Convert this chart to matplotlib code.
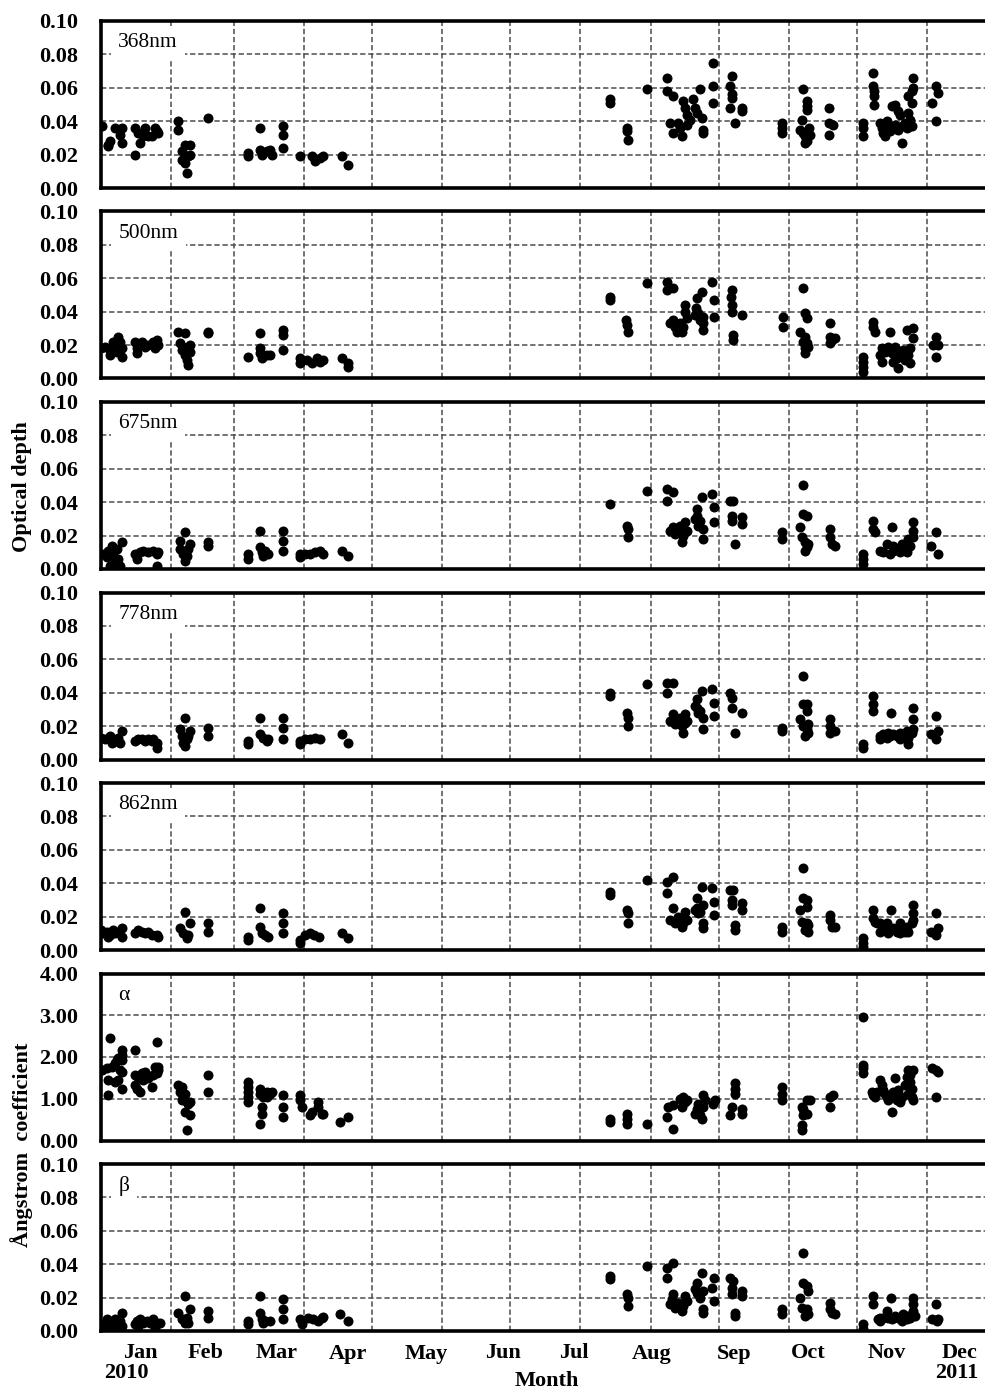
import matplotlib.pyplot as plt

plt.rcParams['font.family'] = ['Liberation Serif', 'DejaVu Serif']

# x axis: days counted from 1 Jan (first month shown)
month_edges = [31, 59, 90, 120, 151, 181, 212, 243, 273, 304, 334, 365]
month_names = ['Jan', 'Feb', 'Mar', 'Apr', 'May', 'Jun', 'Jul', 'Aug', 'Sep', 'Oct', 'Nov', 'Dec']
month_label_days = [17.4, 46.5, 77.8, 109.3, 144.1, 177.8, 209.2, 243.5, 279.8, 312.5, 347.3, 379.6]
year_names = ['2010', '2011']
year_label_days = [11.6, 378.2]

# ---- 368 nm ----
day_368 = [0.5, 3.5, 4.2, 3.5, 6.4, 9.3, 8.6, 9.3, 15.2, 15.2, 16.7, 17.4, 19.6, 18.9, 21.1, 22.6, 24.1, 24.8, 25.5,
           34.4, 34.4, 35.8, 37.3, 39.5, 35.8, 37.3, 38.0, 38.8, 39.5, 47.6, 65.3, 65.3,
           70.4, 70.4, 71.2, 73.4, 74.9, 75.6, 80.5, 80.5, 80.5, 88.1, 93.3, 94.7, 96.9, 98.4, 106.5, 109.5,
           225.1, 225.1, 232.4, 232.4, 233.1, 241.2, 250.1, 250.4, 253.0, 251.6, 253.0, 256.7, 257.4, 258.2,
           258.9, 260.4, 261.9, 262.6, 263.3, 264.8, 265.5, 266.3, 266.3, 255.2, 256.0, 258.9,
           270.7, 270.7, 270.7, 278.8, 278.1, 278.8, 278.8, 278.1, 283.2, 283.2, 280.3,
           300.9, 300.9, 300.9, 310.2, 311.9, 311.9, 311.9, 309.7, 309.0, 310.4, 313.1, 311.2, 311.9, 313.4, 311.2,
           321.9, 321.9, 323.7, 321.9,
           336.9, 336.9, 336.9, 341.1, 341.1, 341.7, 341.7, 341.7, 344.3, 345.0, 345.8, 346.5, 347.3, 348.0, 348.7,
           349.5, 350.9, 352.4, 353.1, 353.9, 350.9, 352.4, 353.9, 355.4, 356.1, 356.8, 357.6, 358.3, 358.3,
           359.0, 359.0, 356.8, 357.6, 358.3, 367.1, 369.0, 370.1, 369.0]
aod_368 = [0.037, 0.026, 0.028, 0.025, 0.036, 0.036, 0.032, 0.027, 0.036, 0.020, 0.033, 0.027, 0.036, 0.031, 0.031,
           0.031, 0.036, 0.034, 0.033,
           0.040, 0.035, 0.022, 0.026, 0.026, 0.017, 0.015, 0.009, 0.019, 0.020, 0.042, 0.021, 0.019,
           0.036, 0.023, 0.020, 0.022, 0.023, 0.020, 0.037, 0.032, 0.024, 0.019, 0.019, 0.016, 0.018, 0.019,
           0.019, 0.014,
           0.053, 0.051, 0.036, 0.034, 0.029, 0.059, 0.066, 0.058, 0.055, 0.039, 0.033, 0.031, 0.052, 0.048,
           0.044, 0.041, 0.053, 0.048, 0.045, 0.059, 0.042, 0.035, 0.033, 0.039, 0.036, 0.038,
           0.075, 0.061, 0.051, 0.067, 0.061, 0.056, 0.054, 0.048, 0.048, 0.046, 0.039,
           0.039, 0.036, 0.033, 0.059, 0.052, 0.049, 0.047, 0.041, 0.035, 0.033, 0.036, 0.031, 0.028, 0.032, 0.027,
           0.048, 0.039, 0.038, 0.032,
           0.039, 0.036, 0.031, 0.069, 0.061, 0.058, 0.055, 0.050, 0.039, 0.036, 0.033, 0.031, 0.040, 0.037, 0.034,
           0.049, 0.050, 0.046, 0.044, 0.027, 0.038, 0.035, 0.037, 0.039, 0.036, 0.045, 0.041, 0.051, 0.058,
           0.066, 0.060, 0.055, 0.037, 0.037, 0.051, 0.061, 0.057, 0.040]

# ---- 500 nm ----
day_500 = [0.0, 2.0, 4.2, 4.2, 5.7, 6.4, 7.2, 7.9, 8.6, 9.4, 9.4,
           15.3, 16.0, 16.0, 17.5, 18.2, 19.7, 21.2, 23.4, 24.1, 25.6, 24.8,
           34.4, 37.4, 35.1, 39.6, 35.9, 37.4, 38.1, 38.8, 39.6, 36.6, 47.7, 47.7, 65.3,
           70.5, 70.5, 70.5, 72.0, 73.4, 74.9, 71.2, 80.8, 80.8, 80.8,
           88.1, 88.1, 91.1, 93.3, 95.5, 98.5, 97.0, 106.6, 109.5, 109.5,
           225.1, 225.1, 232.2, 232.4, 233.2, 241.3, 250.1, 250.1, 253.1,
           251.6, 253.1, 253.8, 254.5, 256.7, 256.0, 258.2, 258.2, 258.9, 257.5,
           263.4, 263.1, 262.6, 264.1, 265.6, 264.8, 266.3, 266.3, 266.3, 270.3, 271.2, 271.2,
           278.8, 278.4, 278.8, 278.8, 279.6, 279.6, 283.2,
           301.4, 301.4, 310.2, 311.2, 312.0, 309.0, 311.2, 312.0, 311.2, 312.7, 311.2, 310.5,
           322.3, 322.3, 323.0, 324.5, 322.3,
           337.0, 337.0, 337.0, 337.0, 341.1, 341.4, 342.1,
           345.1, 344.3, 345.1, 346.6, 348.0, 348.8, 349.5, 351.0, 351.7, 352.4, 353.2, 354.6, 355.4, 356.9,
           357.6, 356.1, 359.1, 359.1, 357.6, 350.2,
           369.1, 367.6, 370.1, 369.1]
aod_500 = [0.018, 0.019, 0.017, 0.014, 0.022, 0.019, 0.016, 0.025, 0.022, 0.018, 0.013,
           0.022, 0.018, 0.015, 0.020, 0.022, 0.019, 0.020, 0.022, 0.018, 0.020, 0.023,
           0.028, 0.027, 0.021, 0.020, 0.017, 0.014, 0.011, 0.008, 0.016, 0.019, 0.028, 0.027, 0.013,
           0.027, 0.018, 0.015, 0.014, 0.014, 0.014, 0.012, 0.029, 0.026, 0.017,
           0.012, 0.009, 0.011, 0.009, 0.012, 0.011, 0.010, 0.012, 0.009, 0.007,
           0.049, 0.047, 0.035, 0.032, 0.028, 0.057, 0.058, 0.053, 0.054,
           0.033, 0.035, 0.031, 0.028, 0.028, 0.033, 0.044, 0.040, 0.036, 0.031,
           0.048, 0.042, 0.038, 0.039, 0.052, 0.035, 0.033, 0.029, 0.037, 0.058, 0.047, 0.037,
           0.053, 0.049, 0.044, 0.040, 0.026, 0.023, 0.038,
           0.037, 0.031, 0.054, 0.039, 0.036, 0.028, 0.025, 0.021, 0.018, 0.019, 0.015, 0.022,
           0.033, 0.025, 0.023, 0.024, 0.021,
           0.013, 0.010, 0.007, 0.004, 0.034, 0.031, 0.028,
           0.018, 0.014, 0.010, 0.016, 0.019, 0.028, 0.015, 0.019, 0.012, 0.006, 0.015, 0.017, 0.011, 0.014,
           0.018, 0.029, 0.030, 0.024, 0.009, 0.010,
           0.025, 0.020, 0.020, 0.013]

# ---- 675 nm ----
day_675 = [0.5, 2.8, 3.5, 5.0, 5.7, 7.2, 7.9, 9.4, 4.2, 8.6, 6.4,
           15.3, 16.0, 17.5, 18.9, 21.2, 23.4, 24.8, 25.6, 24.8,
           37.4, 35.1, 39.6, 35.1, 36.6, 38.1, 37.4, 38.8, 47.7, 47.7, 65.3, 65.3,
           70.5, 70.5, 71.2, 72.7, 74.2, 72.0, 80.8, 80.8, 80.8,
           88.1, 88.1, 90.4, 92.6, 94.8, 97.0, 98.5, 106.6, 109.5,
           225.1, 232.4, 233.2, 233.2, 241.3, 250.1, 253.1, 250.1,
           251.6, 253.1, 253.8, 255.3, 256.7, 257.5, 258.2, 256.7, 258.9, 256.0,
           263.4, 263.4, 264.8, 265.6, 266.3, 266.3, 264.1, 262.6, 270.3, 271.2, 271.2,
           278.1, 279.6, 278.8, 278.8, 280.3, 283.2, 283.2,
           300.9, 300.9, 310.2, 310.5, 312.0, 309.0, 309.7, 311.2, 312.0, 311.2, 312.7,
           322.3, 322.3, 323.0, 324.5,
           337.0, 337.0, 337.0, 341.1, 341.1, 342.1,
           344.3, 345.8, 347.3, 348.8, 349.5, 350.2, 351.7, 353.2, 353.9, 355.4, 356.9, 357.6, 359.1, 359.1,
           359.1, 356.1, 350.2,
           369.1, 366.7, 370.1]
aod_675 = [0.009, 0.007, 0.011, 0.014, 0.009, 0.012, 0.006, 0.016, 0.002, 0.002, 0.004,
           0.009, 0.006, 0.010, 0.011, 0.010, 0.011, 0.009, 0.010, 0.002,
           0.022, 0.017, 0.015, 0.012, 0.009, 0.008, 0.005, 0.012, 0.016, 0.014, 0.009, 0.006,
           0.023, 0.013, 0.010, 0.011, 0.009, 0.008, 0.023, 0.017, 0.011,
           0.009, 0.007, 0.009, 0.009, 0.010, 0.011, 0.009, 0.011, 0.008,
           0.039, 0.026, 0.024, 0.019, 0.047, 0.048, 0.046, 0.041,
           0.023, 0.025, 0.021, 0.022, 0.024, 0.020, 0.028, 0.016, 0.023, 0.026,
           0.036, 0.032, 0.029, 0.043, 0.024, 0.018, 0.026, 0.030, 0.045, 0.037, 0.028,
           0.041, 0.041, 0.032, 0.029, 0.015, 0.031, 0.027,
           0.022, 0.018, 0.050, 0.033, 0.032, 0.025, 0.019, 0.016, 0.013, 0.011, 0.015,
           0.024, 0.019, 0.015, 0.014,
           0.009, 0.006, 0.003, 0.029, 0.024, 0.022,
           0.011, 0.010, 0.015, 0.009, 0.025, 0.014, 0.012, 0.010, 0.015, 0.012, 0.018, 0.014, 0.028, 0.023,
           0.019, 0.010, 0.011,
           0.022, 0.014, 0.009]

# ---- 778 nm ----
day_778 = [0.0, 2.0, 4.2, 5.0, 6.4, 7.9, 9.4, 8.6,
           15.3, 16.7, 18.2, 19.7, 21.2, 22.6, 24.8, 24.8, 23.4,
           37.4, 35.1, 35.9, 39.6, 36.6, 38.1, 37.4, 38.8, 47.7, 47.7, 65.3, 65.3,
           70.5, 70.5, 72.0, 73.4, 74.2, 80.8, 80.8, 80.8,
           88.1, 88.1, 90.4, 92.6, 94.8, 97.0, 106.6, 109.5,
           225.1, 225.1, 232.4, 233.2, 233.2, 241.3, 250.1, 253.1, 250.1,
           251.6, 253.1, 253.8, 255.3, 256.7, 257.5, 258.2, 258.9, 256.0, 258.2,
           263.4, 263.4, 264.8, 265.6, 266.3, 266.3, 264.1, 262.6, 270.3, 271.2, 271.2,
           278.1, 278.8, 278.8, 280.3, 283.2,
           300.9, 300.9, 310.2, 310.5, 312.0, 312.2, 309.0, 310.5, 312.0, 311.2, 312.7, 312.7,
           322.3, 322.3, 323.0, 324.5, 322.3,
           337.0, 337.0, 341.1, 341.4, 341.4, 349.1,
           344.3, 344.3, 345.8, 347.3, 348.8, 350.2, 351.7, 353.2, 354.6, 356.1, 356.9, 356.9, 358.3, 359.1,
           359.1, 359.1, 348.0, 353.2, 355.4,
           369.1, 370.1, 366.7, 369.1]
aod_778 = [0.013, 0.012, 0.014, 0.010, 0.011, 0.013, 0.017, 0.010,
           0.011, 0.012, 0.012, 0.011, 0.012, 0.011, 0.010, 0.007, 0.012,
           0.025, 0.018, 0.014, 0.017, 0.010, 0.012, 0.008, 0.014, 0.019, 0.014, 0.011, 0.009,
           0.025, 0.015, 0.013, 0.011, 0.012, 0.025, 0.019, 0.012,
           0.011, 0.009, 0.012, 0.012, 0.013, 0.012, 0.015, 0.010,
           0.040, 0.038, 0.028, 0.025, 0.020, 0.045, 0.046, 0.046, 0.040,
           0.023, 0.027, 0.021, 0.023, 0.020, 0.016, 0.027, 0.023, 0.025, 0.022,
           0.036, 0.031, 0.029, 0.041, 0.025, 0.018, 0.028, 0.032, 0.042, 0.034, 0.026,
           0.040, 0.037, 0.031, 0.016, 0.028,
           0.019, 0.017, 0.050, 0.033, 0.033, 0.029, 0.024, 0.020, 0.018, 0.014, 0.016, 0.021,
           0.024, 0.020, 0.017, 0.017, 0.016,
           0.009, 0.007, 0.038, 0.033, 0.029, 0.028,
           0.014, 0.012, 0.015, 0.013, 0.014, 0.015, 0.014, 0.016, 0.014, 0.017, 0.013, 0.009, 0.016, 0.031,
           0.024, 0.018, 0.016, 0.012, 0.015,
           0.026, 0.017, 0.015, 0.012]

# ---- 862 nm ----
day_862 = [0.0, 1.3, 2.8, 4.2, 5.7, 6.4, 7.9, 9.4, 9.4, 3.5,
           15.3, 16.7, 18.2, 19.7, 21.2, 22.6, 24.8, 25.6,
           37.4, 39.6, 35.1, 36.6, 38.8, 38.1, 47.7, 47.7, 65.3, 65.3,
           70.5, 70.5, 71.2, 72.7, 74.2, 80.8, 80.8, 80.8,
           88.1, 88.1, 90.4, 92.6, 94.1, 96.3, 106.6, 109.5,
           225.1, 225.1, 232.4, 233.2, 233.2, 241.3, 250.1, 253.1, 250.1,
           251.6, 253.1, 253.8, 255.3, 256.7, 257.5, 258.2, 258.9, 256.0,
           263.4, 263.4, 264.8, 265.6, 266.3, 266.3, 264.1, 262.6, 266.3, 270.3, 271.2, 271.2,
           278.1, 279.6, 278.8, 278.8, 280.3, 280.3, 283.2, 283.2,
           300.9, 300.9, 310.2, 310.5, 312.0, 312.0, 309.0, 309.7, 312.0, 311.2, 312.7, 312.7,
           322.3, 322.3, 323.0, 324.5,
           337.0, 337.0, 337.0, 341.1, 341.4, 342.1, 349.1,
           344.3, 344.3, 345.8, 347.3, 348.8, 350.2, 351.7, 353.2, 354.6, 356.1, 356.9, 358.3, 359.1, 359.1,
           359.1, 348.0, 353.2, 355.4, 342.9,
           369.1, 370.1, 366.7, 369.1]
aod_862 = [0.012, 0.010, 0.011, 0.009, 0.012, 0.010, 0.011, 0.013, 0.008, 0.008,
           0.010, 0.012, 0.011, 0.010, 0.011, 0.009, 0.009, 0.008,
           0.023, 0.016, 0.013, 0.010, 0.009, 0.007, 0.016, 0.011, 0.008, 0.006,
           0.025, 0.014, 0.010, 0.009, 0.008, 0.022, 0.016, 0.010,
           0.006, 0.004, 0.009, 0.010, 0.009, 0.008, 0.010, 0.007,
           0.035, 0.033, 0.024, 0.022, 0.016, 0.042, 0.041, 0.044, 0.034,
           0.018, 0.025, 0.016, 0.020, 0.014, 0.016, 0.023, 0.018, 0.018,
           0.031, 0.025, 0.023, 0.038, 0.016, 0.013, 0.022, 0.024, 0.027, 0.037, 0.029, 0.021,
           0.036, 0.036, 0.030, 0.027, 0.015, 0.012, 0.028, 0.024,
           0.014, 0.011, 0.049, 0.031, 0.030, 0.026, 0.024, 0.017, 0.016, 0.012, 0.011, 0.015,
           0.021, 0.018, 0.014, 0.014,
           0.007, 0.004, 0.002, 0.024, 0.019, 0.017, 0.024,
           0.016, 0.011, 0.013, 0.016, 0.012, 0.013, 0.011, 0.016, 0.012, 0.014, 0.011, 0.016, 0.027, 0.022,
           0.018, 0.010, 0.010, 0.011, 0.016,
           0.022, 0.013, 0.011, 0.009]

# ---- Angstrom alpha ----
day_alpha = [0.5, 2.7, 4.9, 6.4, 7.1, 7.9, 4.2, 3.5, 3.5, 6.4, 7.9,
             9.3, 9.3, 9.3, 9.3, 9.3, 8.6, 15.2,
             15.2, 15.2, 16.0, 16.7, 17.4, 18.2, 18.9, 19.6, 21.1, 22.6, 23.3, 24.1, 24.8, 24.8, 25.5, 25.5,
             34.4, 35.1, 35.8, 36.6, 35.8, 37.3, 38.0, 38.8, 39.5, 37.3, 39.5, 38.0, 47.6, 47.6,
             65.3, 65.3, 65.3, 65.3, 65.3, 70.4, 70.4, 71.2, 71.2, 70.4, 71.9, 73.4, 74.9, 75.6, 73.4,
             80.5, 80.5, 80.5, 88.1, 88.1, 88.8, 92.5, 93.3, 96.2, 96.2, 97.7, 98.4, 105.8, 109.5,
             225.1, 225.1, 232.4, 232.4, 232.4, 241.2, 250.1, 250.8, 253.0, 253.0,
             256.0, 257.4, 258.9, 256.7, 258.2, 264.1, 264.1, 264.8, 265.5, 266.3, 266.3, 267.0, 263.3, 262.6,
             270.7, 271.4, 280.3, 280.3, 280.3, 278.8, 278.1, 283.2, 283.2,
             300.9, 300.9, 300.9, 309.7, 310.4, 311.9, 313.4, 310.4, 311.9, 309.7, 309.7,
             322.2, 323.7, 322.2,
             336.9, 336.9, 336.9, 336.9,
             340.6, 341.4, 342.1, 342.8, 344.3, 345.0, 345.8, 346.5, 347.3, 348.0, 349.5, 350.2, 350.9, 350.9,
             351.7, 352.4, 353.1, 353.9, 355.4, 356.1, 356.8, 357.6, 357.6, 358.3, 358.3, 359.0, 359.0, 356.8,
             367.1, 369.0, 370.1, 369.0]
val_alpha = [1.69, 1.73, 1.77, 1.85, 1.93, 1.97, 2.45, 1.08, 1.45, 1.41, 1.45,
             2.17, 2.05, 1.93, 1.65, 1.24, 1.69, 2.17,
             1.57, 1.33, 1.24, 1.53, 1.16, 1.61, 1.45, 1.65, 1.49, 1.29, 1.57, 1.77, 1.61, 2.37, 1.77, 1.69,
             1.33, 1.16, 1.29, 1.04, 0.96, 1.12, 0.92, 0.88, 0.92, 0.68, 0.60, 0.24, 1.57, 1.16,
             1.41, 1.29, 1.16, 1.04, 0.92, 1.24, 1.12, 0.80, 0.64, 0.40, 1.04, 1.04, 1.12, 1.16, 1.16,
             1.08, 0.80, 0.56, 1.08, 0.96, 0.80, 0.60, 0.68, 0.92, 0.80, 0.64, 0.64, 0.44, 0.56,
             0.52, 0.44, 0.64, 0.52, 0.40, 0.40, 0.56, 0.80, 0.84, 0.28,
             1.00, 1.04, 0.96, 0.80, 0.92, 0.88, 0.68, 0.60, 0.52, 0.80, 1.08, 0.96, 0.76, 0.64,
             0.88, 0.96, 1.37, 1.24, 1.12, 0.80, 0.60, 0.76, 0.64,
             1.29, 1.12, 0.96, 0.80, 0.76, 0.96, 0.96, 0.60, 0.64, 0.36, 0.24,
             1.04, 1.08, 0.80,
             2.96, 1.81, 1.73, 1.61,
             1.16, 1.08, 1.04, 1.16, 1.45, 1.33, 1.20, 1.12, 1.04, 0.96, 0.68, 1.16, 1.49, 1.08,
             0.96, 1.20, 0.92, 1.04, 1.33, 1.53, 1.69, 1.57, 1.41, 1.24, 1.04, 1.69, 0.96, 1.12,
             1.73, 1.69, 1.65, 1.04]

# ---- Angstrom beta ----
day_beta = [0.5, 2.0, 2.7, 4.9, 6.4, 7.1, 8.6, 9.3, 9.3, 4.2,
            15.2, 16.0, 17.4, 18.9, 20.4, 21.9, 23.3, 24.1, 24.8, 26.3, 24.1, 16.7,
            37.3, 34.4, 35.8, 37.3, 39.5, 38.8, 38.0, 47.6, 47.6, 65.3, 65.3,
            70.4, 70.4, 71.2, 72.7, 74.9, 71.9, 80.5, 80.5, 80.5,
            88.1, 88.8, 91.8, 94.0, 96.2, 97.7, 98.4, 105.8, 109.5,
            225.1, 225.1, 232.4, 233.2, 233.2, 241.3, 250.1, 253.1, 250.1,
            251.6, 253.1, 253.8, 255.3, 256.7, 257.5, 258.2, 258.9, 256.0, 252.3,
            263.4, 263.4, 264.8, 265.6, 266.3, 266.3, 264.1, 262.6, 266.3, 271.2, 270.3, 271.2,
            278.1, 279.6, 278.8, 278.8, 280.3, 280.3, 283.2, 283.2,
            300.9, 300.9, 310.2, 310.2, 312.0, 312.7, 309.0, 309.7, 312.0, 311.2, 312.7,
            322.3, 322.3, 323.0, 324.5,
            337.0, 337.0, 341.1, 341.4, 349.1,
            344.3, 344.3, 345.8, 347.3, 348.0, 349.5, 351.0, 352.4, 353.9, 354.6, 356.1, 356.9, 357.6, 359.1,
            359.1, 359.1, 359.8, 343.6,
            369.1, 367.2, 369.4, 370.1]
val_beta = [0.004, 0.002, 0.007, 0.005, 0.007, 0.002, 0.006, 0.011, 0.003, 0.002,
            0.004, 0.006, 0.007, 0.005, 0.006, 0.005, 0.007, 0.004, 0.005, 0.005, 0.002, 0.003,
            0.021, 0.011, 0.007, 0.005, 0.013, 0.005, 0.008, 0.012, 0.008, 0.006, 0.004,
            0.021, 0.011, 0.007, 0.006, 0.006, 0.005, 0.019, 0.013, 0.007,
            0.007, 0.004, 0.008, 0.007, 0.006, 0.008, 0.0085, 0.010, 0.006,
            0.033, 0.031, 0.022, 0.020, 0.015, 0.039, 0.038, 0.041, 0.032,
            0.016, 0.022, 0.014, 0.017, 0.012, 0.015, 0.021, 0.018, 0.016, 0.019,
            0.029, 0.023, 0.020, 0.035, 0.013, 0.011, 0.022, 0.025, 0.024, 0.032, 0.026, 0.018,
            0.032, 0.030, 0.026, 0.022, 0.011, 0.009, 0.024, 0.021,
            0.013, 0.010, 0.047, 0.029, 0.027, 0.024, 0.020, 0.014, 0.013, 0.009, 0.010,
            0.017, 0.013, 0.011, 0.010,
            0.004, 0.001, 0.021, 0.016, 0.020,
            0.008, 0.006, 0.008, 0.012, 0.008, 0.007, 0.009, 0.008, 0.006, 0.010, 0.007, 0.009, 0.008, 0.020,
            0.016, 0.012, 0.009, 0.007,
            0.016, 0.007, 0.006, 0.007]

panels = [('368nm', day_368, aod_368), ('500nm', day_500, aod_500), ('675nm', day_675, aod_675),
          ('778nm', day_778, aod_778), ('862nm', day_862, aod_862),
          ('α', day_alpha, val_alpha), ('β', day_beta, val_beta)]
aod_ticks = [0, 0.02, 0.04, 0.06, 0.08, 0.10]
alpha_ticks = [0, 1, 2, 3, 4]

W, H = 985, 1392
fig = plt.figure(figsize=(W / 100, H / 100), dpi=100)

axes = []
for k, (name, xs, ys) in enumerate(panels):
    top = 21 + 190.5 * k
    ax = fig.add_axes([100.5 / W, 1 - (top + 167) / H, (W - 100.5) / W, 167 / H])
    ax.plot(xs, ys, 'o', color='black', ms=7.2, mew=0, zorder=4)
    ax.set_xlim(0, 390.7)
    ticks = alpha_ticks if name == 'α' else aod_ticks
    ax.set_ylim(ticks[0], ticks[-1])
    ax.set_yticks(ticks)
    ax.set_yticklabels(['%.2f' % t for t in ticks], fontsize=16, fontweight='bold')
    ax.set_xticks(month_edges)
    ax.set_xticklabels([])
    ax.tick_params(length=0, pad=16)
    ax.grid(True, color='#4d4d4d', linestyle=(0, (3.5, 1.8)), linewidth=1.1)
    ax.set_axisbelow(True)
    for side in ['top', 'bottom', 'left']:
        ax.spines[side].set_linewidth(2.6)
    ax.spines['right'].set_visible(False)
    ax.text(0.02, 0.87, name, transform=ax.transAxes, fontsize=15.5, va='center', ha='left', zorder=3,
            bbox=dict(boxstyle='square,pad=0.35', facecolor='white', edgecolor='none'))
    axes.append(ax)

# month names under the last panel
ax = axes[-1]
ax.set_xticks(month_label_days, minor=True)
ax.set_xticklabels(month_names, minor=True, fontsize=16, fontweight='bold')
ax.tick_params(which='minor', length=0, pad=9)
for lab, d in zip(year_names, year_label_days):
    ax.text(d, -0.25, lab, transform=ax.get_xaxis_transform(), fontsize=16, fontweight='bold',
            ha='center', va='center')
ax.text(0.505, -0.30, 'Month', transform=ax.transAxes, fontsize=16, fontweight='bold',
        ha='center', va='center')

fig.text(22 / W, 1 - 487 / H, 'Optical depth', rotation=90, fontsize=16, fontweight='bold',
         ha='center', va='center')
fig.text(22 / W, 1 - 1145 / H, 'Ångstrom  coefficient', rotation=90, fontsize=16, fontweight='bold',
         ha='center', va='center')

fig.savefig('out.png', dpi=100)
